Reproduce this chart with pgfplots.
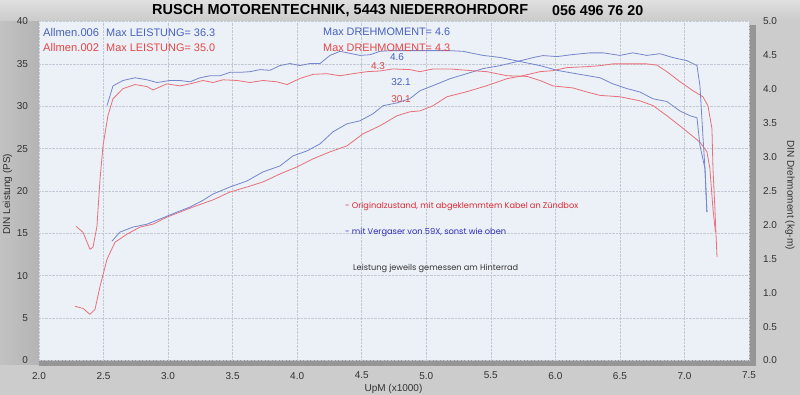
\documentclass[border=0pt]{standalone}
\usepackage{fontspec}
\setmainfont{Liberation Sans}
\newfontfamily\anno{Poppins}
\usepackage{pgfplots}
\usepackage{pgfplotstable}
\pgfplotsset{compat=1.18}
\definecolor{bgc}{RGB}{204,204,204}
\definecolor{bandc}{RGB}{180,180,180}
\definecolor{shadc}{RGB}{150,150,150}
\definecolor{plotbg}{RGB}{236,240,247}
\definecolor{gridc}{RGB}{195,200,212}
\definecolor{bline}{RGB}{118,134,205}
\definecolor{rline}{RGB}{232,112,122}
\definecolor{btext}{RGB}{70,98,190}
\definecolor{rtext}{RGB}{228,72,72}
\definecolor{atext}{RGB}{220,40,50}
\definecolor{vtext}{RGB}{45,45,185}
\definecolor{tickc}{RGB}{50,50,50}

\pgfplotstableread{
x y
2.565 14.08
2.627 15.15
2.728 15.74
2.837 16.09
2.937 16.69
3.069 17.51
3.170 18.11
3.270 18.90
3.348 19.64
3.479 20.47
3.611 21.18
3.735 22.25
3.867 22.96
3.967 24.14
4.076 24.73
4.177 25.56
4.277 26.98
4.386 27.93
4.486 28.28
4.587 29.11
4.665 30.06
4.773 30.40
4.874 30.90
4.951 31.83
5.052 32.43
5.184 33.25
5.315 33.85
5.439 34.44
5.571 34.79
5.703 35.27
5.827 35.74
5.904 35.98
6.012 35.86
6.136 36.10
6.268 36.30
6.369 36.30
6.500 36.00
6.601 36.30
6.709 36.00
6.810 36.20
6.911 35.74
7.019 35.38
7.066 35.03
7.097 34.79
7.120 32.40
7.143 26.50
7.159 22.60
7.174 17.50
}\bluepower

\pgfplotstableread{
x y
2.279 6.39
2.341 6.15
2.395 5.44
2.434 6.04
2.473 8.76
2.527 11.95
2.589 13.96
2.682 14.91
2.782 15.74
2.883 16.09
2.991 16.92
3.092 17.51
3.193 18.11
3.301 18.70
3.348 18.95
3.479 19.88
3.611 20.47
3.735 21.07
3.867 22.01
3.998 22.84
4.122 23.79
4.254 24.62
4.386 25.33
4.510 26.75
4.641 27.69
4.773 28.88
4.874 29.35
4.951 29.45
5.052 30.06
5.160 31.12
5.315 31.72
5.470 32.43
5.625 33.25
5.749 33.61
5.881 34.08
5.981 34.20
6.090 34.56
6.245 34.67
6.346 34.79
6.446 35.00
6.555 35.00
6.709 35.00
6.787 34.85
6.864 34.08
6.965 32.90
7.066 31.83
7.143 31.12
7.182 30.06
7.213 27.34
7.221 22.60
7.236 17.87
7.252 12.20
}\redpower

\pgfplotstableread{
x y
2.527 3.76
2.573 4.05
2.651 4.13
2.744 4.17
2.837 4.14
2.914 4.10
3.015 4.13
3.092 4.13
3.170 4.11
3.247 4.17
3.325 4.20
3.402 4.20
3.479 4.25
3.557 4.25
3.634 4.26
3.712 4.29
3.789 4.28
3.867 4.35
3.944 4.38
4.022 4.35
4.099 4.38
4.177 4.38
4.254 4.50
4.332 4.56
4.409 4.53
4.486 4.50
4.564 4.51
4.641 4.56
4.719 4.57
4.796 4.57
4.951 4.57
5.184 4.57
5.284 4.56
5.439 4.50
5.571 4.47
5.726 4.41
5.881 4.35
6.012 4.28
6.191 4.22
6.346 4.17
6.446 4.08
6.555 4.01
6.655 3.96
6.756 3.86
6.864 3.82
6.965 3.68
7.043 3.61
7.097 3.58
7.120 3.17
7.159 2.83
7.174 2.19
}\bluetorque

\pgfplotstableread{
x y
2.287 1.98
2.341 1.89
2.395 1.64
2.418 1.67
2.449 1.98
2.473 2.68
2.496 3.17
2.534 3.61
2.573 3.86
2.651 4.01
2.744 4.07
2.837 4.04
2.883 3.99
2.991 4.08
3.092 4.05
3.170 4.08
3.270 4.13
3.348 4.10
3.425 4.14
3.534 4.13
3.634 4.10
3.735 4.13
3.844 4.11
3.921 4.07
4.022 4.16
4.122 4.22
4.231 4.23
4.332 4.20
4.432 4.23
4.541 4.26
4.641 4.27
4.742 4.30
4.874 4.29
4.951 4.26
5.052 4.30
5.184 4.30
5.315 4.28
5.470 4.26
5.625 4.20
5.780 4.19
5.881 4.13
5.981 4.05
6.136 4.02
6.245 3.96
6.346 3.91
6.500 3.89
6.655 3.83
6.756 3.76
6.864 3.61
6.965 3.46
7.043 3.34
7.120 3.22
7.174 3.08
7.197 2.83
7.221 2.23
7.240 1.89
}\redtorque

\begin{document}
\begin{tikzpicture}[x=1pt,y=1pt]
% background
\fill[bgc] (0,0) rectangle (800,395);
\fill[top color=bgc!60!white, bottom color=bgc] (0,375) rectangle (800,395);
\shade[left color=bgc!95!black, right color=bandc] (0,30) rectangle (39,373.5);
% 3D shadow strips
\fill[shadc] (39,29) rectangle (756,34.5);
\fill[shadc] (749,29) rectangle (756,370);

\begin{axis}[
  at={(39pt,34.5pt)}, anchor=south west,
  scale only axis, width=710pt, height=339pt,
  xmin=2, xmax=7.5, ymin=0, ymax=40,
  axis background/.style={fill=plotbg},
  axis line style={draw=none},
  tick style={draw=none},
  xtick={2,2.5,3,3.5,4,4.5,5,5.5,6,6.5,7,7.5},
  ytick={0,5,10,15,20,25,30,35,40},
  grid=major,
  grid style={densely dotted, gridc, line width=0.5pt},
  /pgf/number format/assume math mode=true,
  xticklabel style={/pgf/number format/.cd, fixed, fixed zerofill, precision=1, /tikz/.cd, font=\fontsize{10}{12}\selectfont, text=tickc, yshift=-8pt},
  yticklabel style={font=\fontsize{10}{12}\selectfont, text=tickc, xshift=-7.5pt},
  clip=false,
]
\addplot[rline, line width=0.8pt, line join=round] table {\redpower};
\addplot[bline, line width=0.8pt, line join=round] table {\bluepower};
\end{axis}

\begin{axis}[
  at={(39pt,34.5pt)}, anchor=south west,
  scale only axis, width=710pt, height=339pt,
  xmin=2, xmax=7.5, ymin=0, ymax=5,
  axis x line=none,
  axis y line*=right,
  axis line style={draw=none},
  tick style={draw=none},
  ytick={0,0.5,1,1.5,2,2.5,3,3.5,4,4.5,5},
  /pgf/number format/assume math mode=true,
  yticklabel style={/pgf/number format/.cd, fixed, fixed zerofill, precision=1, /tikz/.cd, font=\fontsize{10}{12}\selectfont, text=tickc, xshift=10.5pt},
  clip=false,
]
\addplot[rline, line width=0.8pt, line join=round] table {\redtorque};
\addplot[bline, line width=0.8pt, line join=round] table {\bluetorque};
\end{axis}

% title
\node[anchor=west, inner sep=0] at (152,384.5) {\resizebox{376pt}{!}{\fontsize{12.6}{14}\selectfont\bfseries RUSCH MOTORENTECHNIK, 5443 NIEDERROHRDORF}};
\node[anchor=west, inner sep=0] at (552,384.5) {\resizebox{91pt}{!}{\fontsize{12.6}{14}\selectfont\bfseries 056 496 76 20}};

% legend texts
\node[anchor=west, inner sep=0, text=btext] at (43,362) {\resizebox{56pt}{!}{\fontsize{10}{12}\selectfont Allmen.006}};
\node[anchor=west, inner sep=0, text=btext] at (106,362) {\resizebox{109pt}{!}{\fontsize{10}{12}\selectfont Max LEISTUNG= 36.3}};
\node[anchor=west, inner sep=0, text=rtext] at (43,347) {\resizebox{56pt}{!}{\fontsize{10}{12}\selectfont Allmen.002}};
\node[anchor=west, inner sep=0, text=rtext] at (106,347) {\resizebox{109pt}{!}{\fontsize{10}{12}\selectfont Max LEISTUNG= 35.0}};
\node[anchor=west, inner sep=0, text=btext] at (323,363) {\resizebox{127pt}{!}{\fontsize{10}{12}\selectfont Max DREHMOMENT= 4.6}};
\node[anchor=west, inner sep=0, text=rtext] at (323,347) {\resizebox{127pt}{!}{\fontsize{10}{12}\selectfont Max DREHMOMENT= 4.3}};

% value labels
\node[text=btext, inner sep=0, font=\fontsize{10}{12}\selectfont] at (397,338) {4.6};
\node[text=rtext, inner sep=0, font=\fontsize{10}{12}\selectfont] at (378,328.5) {4.3};
\node[text=btext, inner sep=0, font=\fontsize{10}{12}\selectfont] at (401,312.5) {32.1};
\node[text=rtext, inner sep=0, font=\fontsize{10}{12}\selectfont] at (401,295.5) {30.1};

% annotations
\node[anchor=west, inner sep=0, text=atext] at (345,188.5) {\resizebox{233pt}{!}{\anno\fontsize{7.5}{9}\selectfont - Originalzustand, mit abgeklemmtem Kabel an Zündbox}};
\node[anchor=west, inner sep=0, text=vtext] at (345,162.5) {\resizebox{161pt}{!}{\anno\fontsize{7.5}{9}\selectfont - mit Vergaser von 59X, sonst wie oben}};
\node[anchor=west, inner sep=0, text=black!80] at (353,127) {\resizebox{165pt}{!}{\anno\fontsize{7.5}{9}\selectfont Leistung jeweils gemessen am Hinterrad}};

% axis titles
\node[rotate=90, inner sep=0, text=tickc, font=\fontsize{10}{12}\selectfont] at (7.5,201) {DIN Leistung (PS)};
\node[rotate=-90, inner sep=0, text=tickc, font=\fontsize{10}{12}\selectfont] at (790,200) {DIN Drehmoment (kg-m)};
\node[inner sep=0, text=tickc, font=\fontsize{10}{12}\selectfont] at (393.5,6) {UpM (x1000)};
\end{tikzpicture}
\end{document}
